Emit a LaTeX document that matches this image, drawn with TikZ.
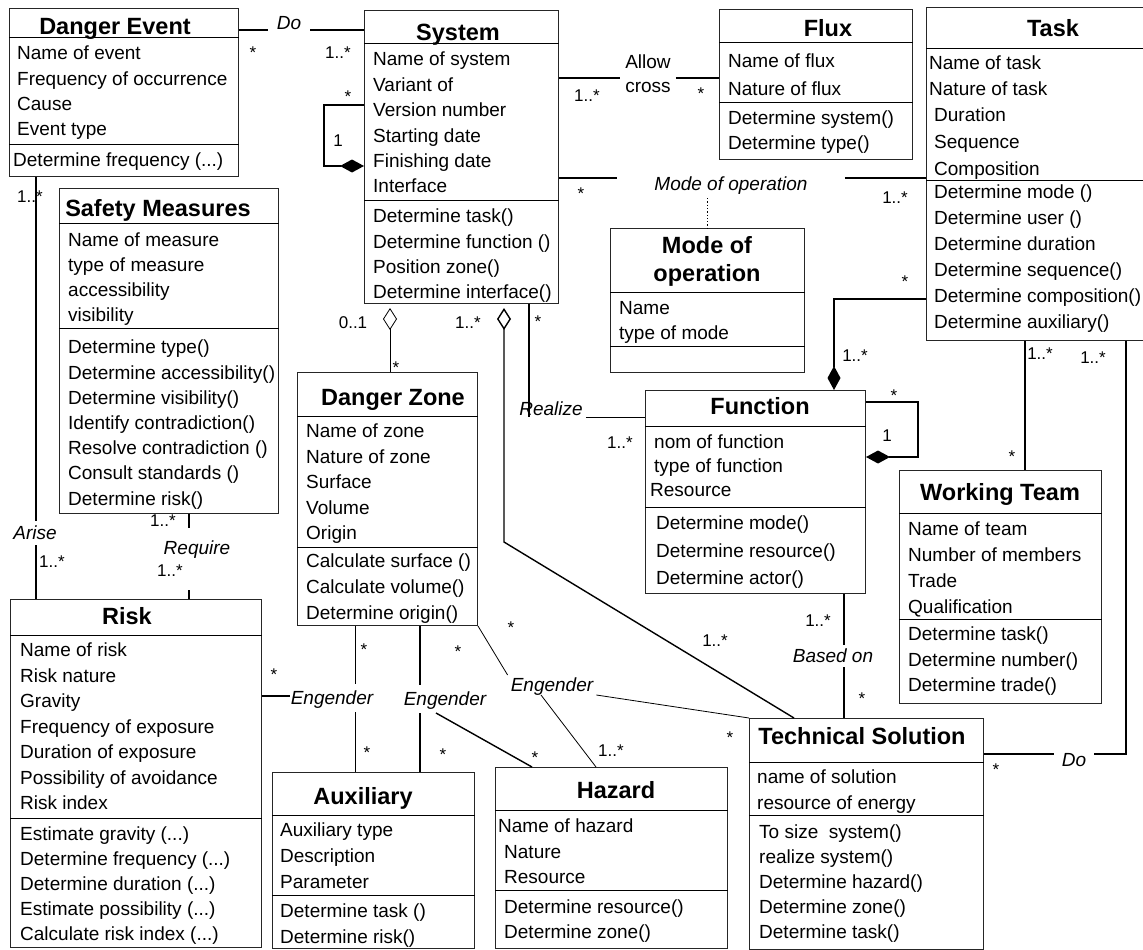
\documentclass[tikz,border=0pt]{standalone}
\usepackage{fontspec}
\setmainfont{Liberation Sans}
\usetikzlibrary{arrows.meta}

\tikzset{
  classbox/.style={draw=black!85, anchor=north west, inner sep=0pt, line width=1pt},
  classname/.style={font=\fontsize{23.5}{28}\selectfont\bfseries, inner sep=0pt, text height=16.8pt, text depth=0pt},
  members/.style={anchor=north west, inner sep=0pt, align=left, font=\fontsize{19}{#1}\selectfont},
  members/.default=25.4,
  role/.style={font=\fontsize{19}{24}\selectfont\itshape, inner sep=3pt, text height=13.6pt, text depth=0pt},
  mult/.style={font=\fontsize{17}{20}\selectfont, inner sep=0pt, text height=12.2pt, text depth=0pt},
  assoc/.style={line width=1.4pt},
  thinassoc/.style={line width=0.8pt},
  comp/.style={-{Diamond[length=24pt,width=13pt]}},
  aggr/.style={{Diamond[open,length=22pt,width=14pt]}-, shorten <=4pt}
}

\begin{document}
\begin{tikzpicture}[x=1pt,y=-1pt]
\useasboundingbox (0,0) rectangle (1143,950);
\clip (0,0) rectangle (1143,950);

% Danger Event
\node[classbox, minimum width=229pt, minimum height=168pt] (danger) at (9,8) {};
\draw (danger.west |- 0,37) -- (danger.east |- 0,37);
\draw (danger.west |- 0,144) -- (danger.east |- 0,144);
\node[classname] at (115,26) {Danger Event};
\node[members=25.3] at (17,46) {Name of event\\Frequency of occurrence\\Cause\\Event type};
\node[members] at (13,153) {Determine frequency (...)};

% System
\node[classbox, minimum width=194pt, minimum height=293pt] (system) at (364,10) {};
\draw (system.west |- 0,43) -- (system.east |- 0,43);
\draw (system.west |- 0,200) -- (system.east |- 0,200);
\node[classname] at (458,32) {System};
\node[members=25.4] at (373,52) {Name of system\\Variant of\\Version number\\Starting date\\Finishing date\\Interface};
\node[members=25.3] at (373,209) {Determine task()\\Determine function ()\\Position zone()\\Determine interface()};

% Flux
\node[classbox, minimum width=193pt, minimum height=150pt] (flux) at (719,9) {};
\draw (flux.west |- 0,42) -- (flux.east |- 0,42);
\draw (flux.west |- 0,102) -- (flux.east |- 0,102);
\node[classname] at (828,28) {Flux};
\node[members=28] at (728,54) {Name of flux\\Nature of flux};
\node[members=25] at (728,111) {Determine system()\\Determine type()};

% Task
\node[classbox, minimum width=234pt, minimum height=333pt] (task) at (926,7) {};
\draw (task.west |- 0,48) -- (task.east |- 0,48);
\draw (task.west |- 0,180) -- (task.east |- 0,180);
\node[classname] at (1053,28) {Task};
\node[members=26] at (929,56) {Name of task\\Nature of task};
\node[members=27] at (934,108) {Duration\\Sequence\\Composition};
\node[members=26] at (934,185) {Determine mode ()\\Determine user ()\\Determine duration\\Determine sequence()\\Determine composition()\\Determine auxiliary()};

% Mode of operation
\node[classbox, minimum width=194pt, minimum height=144pt] (mode) at (610,228) {};
\draw (mode.west |- 0,292) -- (mode.east |- 0,292);
\draw (mode.west |- 0,346) -- (mode.east |- 0,346);
\node[classname] at (707,245) {Mode of};
\node[classname] at (707,273) {operation};
\node[members=25] at (619,301) {Name\\type of mode};

% Safety Measures
\node[classbox, minimum width=219pt, minimum height=325pt] (safety) at (59,188) {};
\draw (safety.west |- 0,223) -- (safety.east |- 0,223);
\draw (safety.west |- 0,328) -- (safety.east |- 0,328);
\node[classname] at (158,208) {Safety Measures};
\node[members=25] at (68,233) {Name of measure\\type of measure\\accessibility\\visibility};
\node[members=25.2] at (68,340) {Determine type()\\Determine accessibility()\\Determine visibility()\\Identify contradiction()\\Resolve contradiction ()\\Consult standards ()\\Determine risk()};

% Risk
\node[classbox, minimum width=251pt, minimum height=348pt] (risk) at (10,599) {};
\draw (risk.west |- 0,635) -- (risk.east |- 0,635);
\draw (risk.west |- 0,818) -- (risk.east |- 0,818);
\node[classname] at (127,616) {Risk};
\node[members=25.5] at (20,643) {Name of risk\\Risk nature\\Gravity\\Frequency of exposure\\Duration of exposure\\Possibility of avoidance\\Risk index};
\node[members=24.8] at (20,827) {Estimate gravity (...)\\Determine frequency (...)\\Determine duration (...)\\Estimate possibility (...)\\Calculate risk index (...)};

% Danger Zone
\node[classbox, minimum width=180pt, minimum height=253pt] (zone) at (297,372) {};
\draw (zone.west |- 0,416) -- (zone.east |- 0,416);
\draw (zone.west |- 0,547) -- (zone.east |- 0,547);
\node[classname] at (393,397) {Danger Zone};
\node[members=25.5] at (306,424) {Name of zone\\Nature of zone\\Surface\\Volume\\Origin};
\node[members=26] at (306,554) {Calculate surface ()\\Calculate volume()\\Determine origin()};

% Function
\node[classbox, minimum width=220pt, minimum height=203pt] (function) at (645,390) {};
\draw (function.west |- 0,426) -- (function.east |- 0,426);
\draw (function.west |- 0,507) -- (function.east |- 0,507);
\node[classname] at (760,406) {Function};
\node[members=24] at (654,435) {nom of function\\type of function};
\node[members] at (650,483) {Resource};
\node[members=27.5] at (656,516) {Determine mode()\\Determine resource()\\Determine actor()};

% Working Team
\node[classbox, minimum width=202pt, minimum height=233pt] (team) at (899,470) {};
\draw (team.west |- 0,513) -- (team.east |- 0,513);
\draw (team.west |- 0,619) -- (team.east |- 0,619);
\node[classname] at (1000,492) {Working Team};
\node[members=25.7] at (908,522) {Name of team\\Number of members\\Trade\\Qualification};
\node[members=25.5] at (908,627) {Determine task()\\Determine number()\\Determine trade()};

% Auxiliary
\node[classbox, minimum width=202pt, minimum height=176pt] (aux) at (272,772) {};
\draw (aux.west |- 0,815) -- (aux.east |- 0,815);
\draw (aux.west |- 0,895) -- (aux.east |- 0,895);
\node[classname] at (363,796) {Auxiliary};
\node[members=26] at (280,823) {Auxiliary type\\Description\\Parameter};
\node[members=26] at (280,904) {Determine task ()\\Determine risk()};

% Hazard
\node[classbox, minimum width=232pt, minimum height=181pt] (hazard) at (495,767) {};
\draw (hazard.west |- 0,810) -- (hazard.east |- 0,810);
\draw (hazard.west |- 0,890) -- (hazard.east |- 0,890);
\node[classname] at (616,790) {Hazard};
\node[members] at (498,819) {Name of hazard};
\node[members=25] at (504,845) {Nature\\Resource};
\node[members=25] at (504,900) {Determine resource()\\Determine zone()};

% Technical Solution
\node[classbox, minimum width=234pt, minimum height=231pt] (solution) at (749,718) {};
\draw (solution.west |- 0,762) -- (solution.east |- 0,762);
\draw (solution.west |- 0,815) -- (solution.east |- 0,815);
\node[classname] at (862,736) {Technical Solution};
\node[members=26] at (757,770) {name of solution\\resource of energy};
\node[members=25] at (759,825) {To size~ system()\\realize system()\\Determine hazard()\\Determine zone()\\Determine task()};

% association labels
\node[role, inner xsep=9pt] (do1) at (289,23) {Do};
\node[role, inner xsep=8pt] (do2) at (1074,760) {Do};
\node[font=\fontsize{19}{24}\selectfont, align=center, inner xsep=5pt, inner ysep=2pt] (allow) at (648,74) {Allow\\cross};
\node[role, inner xsep=37pt] (modeop) at (731,184) {Mode of operation};
\node[role] (realize) at (551,409) {Realize};
\node[role, inner ysep=4pt] (basedon) at (833,656) {Based on};
\node[role, inner ysep=5pt] (arise) at (35,533) {Arise};
\node[role] (require) at (197,548) {Require};
\node[role, inner xsep=1pt, inner ysep=7pt] (eng1) at (332,698) {Engender};
\node[role, inner xsep=1pt, inner ysep=7pt] (eng2) at (445,699) {Engender};
\node[role] (eng3) at (552,685) {Engender};
\coordinate (rz) at (529,417);
\coordinate (rq1) at (189,528);
\coordinate (rq2) at (189,590);
\coordinate (bend) at (504,542);

% connectors
\draw[assoc] (danger.east |- 0,30) -- (do1.west |- 0,30);
\draw[assoc] (do1.east |- 0,30) -- (system.west |- 0,30);
\draw[assoc, comp] (system.west |- 0,105) -- (324,105) -- (324,166) -- (system.west |- 0,166);
\draw[assoc] (system.east |- 0,78) -- (allow.west |- 0,78);
\draw[assoc] (allow.east |- 0,78) -- (flux.west |- 0,78);
\draw[assoc] (system.east |- 0,178) -- (modeop.west |- 0,178);
\draw[assoc] (modeop.east |- 0,178) -- (task.west |- 0,178);
\draw[dotted, line width=1.3pt, shorten <=4pt] (mode.north |- modeop.south) -- (mode.north);
\draw[assoc, comp] (task.west |- 0,299) -| (function.north -| 834,0);
\draw[assoc, comp] (function.east |- 0,402) -- (918,402) -- (918,457) -- (function.east |- 0,457);
\draw[assoc] (system.south -| rz) -- (rz);
\draw[thinassoc] (realize.east |- rz) -- (function.west |- rz);
\draw[thinassoc, aggr] (system.south -| 390,0) -- (zone.north -| 390,0);
\draw[assoc, aggr] (system.south -| bend) -- (bend) -- (solution.north -| 794,0);
\draw[assoc] (task.south -| 1025,0) -- (team.north -| 1025,0);
\draw[assoc] (task.south -| 1126,0) |- (do2.east |- 0,754);
\draw[assoc] (do2.west |- 0,754) -- (solution.east |- 0,754);
\draw[assoc] (function.south -| 844,0) -- (basedon.north -| 844,0);
\draw[assoc] (basedon.south -| 844,0) -- (solution.north -| 844,0);
\draw[assoc] (danger.south -| 36,0) -- (arise.north -| 36,0);
\draw[assoc] (arise.south -| 36,0) -- (risk.north -| 36,0);
\draw[assoc] (safety.south -| rq1) -- (rq1);
\draw[assoc] (rq2) -- (risk.north -| rq2);
\draw[thinassoc] (zone.south -| 355,0) -- (eng1.north -| 355,0);
\draw[thinassoc] (eng1.south -| 355,0) -- (aux.north -| 355,0);
\draw[assoc] (risk.east |- 0,696) -- (eng1.west |- 0,696);
\draw[assoc] (zone.south -| 420,0) -- (eng2.north -| 420,0);
\draw[assoc] (eng2.south -| 420,0) -- (aux.north -| 420,0);
\draw[assoc] (eng2.south -| 436,0) -- (hazard.north -| 532,0);
\draw[thinassoc] (zone.south east) -- (eng3.north west);
\draw[thinassoc] (eng3.south -| 541,0) -- (hazard.north -| 596,0);
\draw[thinassoc] (eng3.south east) -- (solution.north west);

% multiplicities
\node[mult] at (253,52) {*};
\node[mult] at (338,52) {1..*};
\node[mult] at (348,96) {*};
\node[mult] at (338,140) {1};
\node[mult] at (587,95) {1..*};
\node[mult] at (701,93) {*};
\node[mult] at (581,193) {*};
\node[mult] at (895,197) {1..*};
\node[mult] at (905,281) {*};
\node[mult] at (855,355) {1..*};
\node[mult] at (1040,353) {1..*};
\node[mult] at (1093,357) {1..*};
\node[mult] at (1012,456) {*};
\node[mult] at (894,395) {*};
\node[mult] at (887,435) {1};
\node[mult] at (538,321) {*};
\node[mult] at (620,442) {1..*};
\node[mult] at (353,322) {0..1};
\node[mult] at (468,322) {1..*};
\node[mult] at (396,367) {*};
\node[mult] at (715,640) {1..*};
\node[mult] at (818,620) {1..*};
\node[mult] at (862,698) {*};
\node[mult] at (996,769) {*};
\node[mult] at (30,196) {1..*};
\node[mult] at (52,561) {1..*};
\node[mult] at (163,520) {1..*};
\node[mult] at (170,570) {1..*};
\node[mult] at (364,649) {*};
\node[mult] at (367,752) {*};
\node[mult] at (274,674) {*};
\node[mult] at (458,651) {*};
\node[mult] at (443,754) {*};
\node[mult] at (535,757) {*};
\node[mult] at (511,627) {*};
\node[mult] at (611,750) {1..*};
\node[mult] at (730,737) {*};
\end{tikzpicture}
\end{document}
